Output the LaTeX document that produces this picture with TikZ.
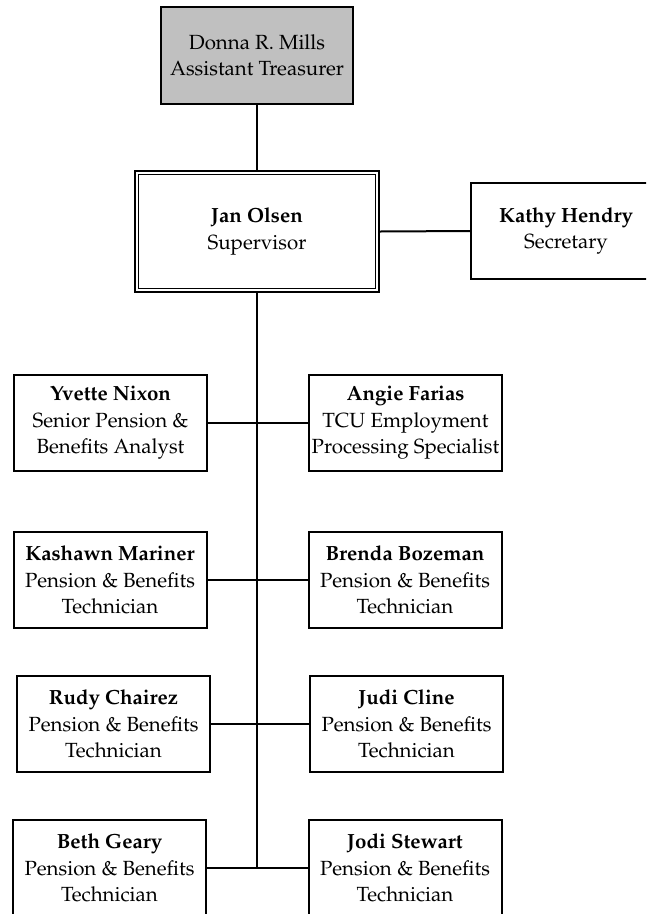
\documentclass[tikz,border=0pt]{standalone}
\usepackage[T1]{fontenc}
\usepackage{mathpazo}
\definecolor{boxgray}{HTML}{C0C0C0}
\tikzset{
  orgbox/.style={draw, line width=2pt, inner sep=0pt, align=center,
    minimum width=193pt, minimum height=96pt,
    font=\fontsize{20.5}{26.5}\selectfont},
  link/.style={line width=2pt}
}
\begin{document}
\begin{tikzpicture}[x=1pt,y=-1pt]
\clip (0,0) rectangle (646,914);
\fill[white] (0,0) rectangle (646,914);
% top
\node[orgbox, fill=boxgray, minimum width=192pt, minimum height=97pt] (donna) at (257,55.5) {Donna R. Mills\\Assistant Treasurer};
\node[orgbox, minimum width=244pt, minimum height=121pt] (jan) at (257,231.5) {\textbf{Jan Olsen}\\Supervisor};
\draw[line width=1.8pt] ([shift={(4.5,4.5)}]jan.north west) rectangle ([shift={(-4.5,-4.5)}]jan.south east);
\node[orgbox, minimum width=190pt] (kathy) at (566,231) {\textbf{Kathy Hendry}\\Secretary};
% rows
\node[orgbox] (yvette) at (110.5,423) {\textbf{Yvette Nixon}\\Senior Pension \&\\Benefits Analyst};
\node[orgbox] (angie) at (405.5,423) {\textbf{Angie Farias}\\TCU Employment\\Processing Specialist};
\node[orgbox] (kashawn) at (110,580) {\textbf{Kashawn Mariner}\\Pension \& Benefits\\Technician};
\node[orgbox] (brenda) at (405,580) {\textbf{Brenda Bozeman}\\Pension \& Benefits\\Technician};
\node[orgbox] (rudy) at (113.5,724) {\textbf{Rudy Chairez}\\Pension \& Benefits\\Technician};
\node[orgbox] (judi) at (406.5,724) {\textbf{Judi Cline}\\Pension \& Benefits\\Technician};
\node[orgbox] (beth) at (109.5,868) {\textbf{Beth Geary}\\Pension \& Benefits\\Technician};
\node[orgbox] (jodi) at (405,868) {\textbf{Jodi Stewart}\\Pension \& Benefits\\Technician};
% connectors
\coordinate (trunkend) at (257,868);
\draw[link] (donna.south) -- (jan.north);
\draw[link] (jan.east) -- (kathy.west);
\draw[link] (jan.south) -- (trunkend);
\draw[link] (yvette.east) -- (angie.west);
\draw[link] (kashawn.east) -- (brenda.west);
\draw[link] (rudy.east) -- (judi.west);
\draw[link] (beth.east) -- (jodi.west);
\end{tikzpicture}
\end{document}
